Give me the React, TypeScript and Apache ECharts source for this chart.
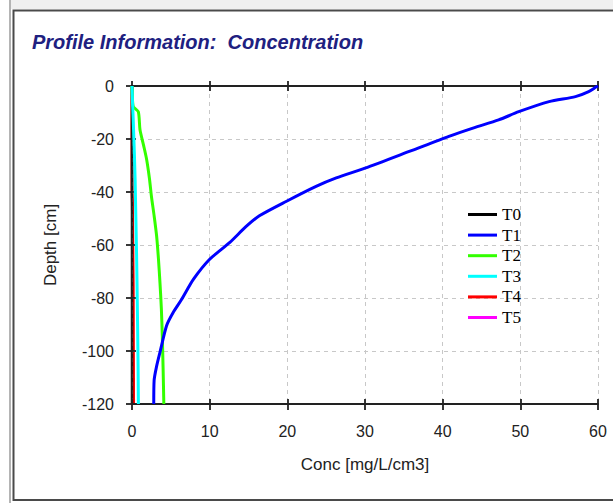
import React, { useEffect, useRef } from "react";
import * as echarts from "echarts";

const seriesNames = ["T0", "T1", "T2", "T3", "T4", "T5"];
const seriesColors = ["#000000", "#0000ff", "#33ff00", "#00ffff", "#ff0000", "#ff00ff"];

// [conc, depth]
const t0: number[][] = [[0, 0], [0, -60], [0, -120]];
const t1: number[][] = [
  [60, 0], [59.8, -0.3], [58.8, -2.1], [57.1, -4], [53.7, -5.9], [49.8, -9.7], [47.2, -12.8],
  [44, -15.8], [40.8, -19], [35.7, -24.7], [30, -31], [26.3, -34.7], [23.7, -37.9],
  [19.9, -43.5], [16.4, -49], [14.7, -53], [12.6, -59], [10, -65.4], [7.9, -73],
  [6.4, -80.5], [5.3, -85.5], [4.45, -90.5], [3.6, -100.5], [3.15, -106], [2.85, -111],
  [2.8, -120]
];
const t2: number[][] = [
  [0, 0], [0.04, -3.4], [0.17, -7.8], [0.81, -9.7], [1.03, -16.5], [1.5, -22.5],
  [1.89, -27.8], [2.25, -35], [2.5, -41.6], [2.85, -49], [3.17, -56.6], [3.4, -65],
  [3.6, -74.2], [3.78, -84], [3.9, -94.2], [4.0, -106], [4.1, -120]
];
const t3: number[][] = [
  [0, 0], [0.05, -5], [0.15, -12], [0.3, -25], [0.4, -35], [0.5, -50], [0.58, -62],
  [0.65, -75], [0.72, -90], [0.78, -105], [0.82, -120]
];
const t4: number[][] = [
  [0, 0], [0, -40], [0.05, -44], [0.1, -60], [0.15, -75], [0.18, -100], [0.2, -120]
];
const t5: number[][] = [[0, 0], [0, -60], [0, -120]];
const seriesData = [t0, t1, t2, t3, t4, t5];
const seriesZ = [-1, 5, 2, 2, -2, -3];

const xTicks = { min: 0, max: 60, interval: 10 };
const yTicks = { min: -120, max: 0, interval: 20 };

const titleText = "Profile Information:  Concentration";
const xName = "Conc [mg/L/cm3]";
const yName = "Depth [cm]";

export default function App() {
  const ref = useRef<HTMLDivElement>(null);
  useEffect(() => {
    if (!ref.current) return;
    const chart = echarts.init(ref.current, undefined, { renderer: "svg" });
    const axisLineStyle = { color: "#222", width: 1.8 };
    const labelStyle = { color: "#222", fontFamily: "Liberation Sans, Arial", fontSize: 16 };
    const hiddenX = (position: string, inside: boolean, showLine: boolean) => ({
      type: "value",
      position,
      min: xTicks.min,
      max: xTicks.max,
      interval: xTicks.interval,
      axisLine: { show: showLine, onZero: false, lineStyle: axisLineStyle },
      axisTick: { show: true, inside, length: 5, lineStyle: axisLineStyle },
      axisLabel: { show: false },
      splitLine: { show: false },
    });
    const option: any = {
      animation: false,
      backgroundColor: "#ffffff",
      graphic: [
        { type: "rect", shape: { x: 11, y: 0, width: 602, height: 9 }, style: { fill: "#f0f0f0" }, silent: true },
        { type: "rect", shape: { x: 9, y: 0, width: 2, height: 503 }, style: { fill: "#b4b4b4" }, silent: true },
        {
          type: "rect",
          shape: { x: 13.5, y: 10.5, width: 620, height: 489.5 },
          style: { fill: "none", stroke: "#4a4a4a", lineWidth: 2 },
          silent: true,
        },
      ],
      title: {
        text: titleText,
        left: 27,
        top: 27,
        textStyle: {
          fontFamily: "Liberation Sans, Arial",
          fontSize: 20,
          fontWeight: "bold",
          fontStyle: "italic",
          color: "#202080",
        },
      },
      legend: {
        orient: "vertical",
        left: 463,
        top: 201,
        itemWidth: 29,
        itemHeight: 3,
        itemGap: 3.6,
        icon: "rect",
        data: seriesNames,
        textStyle: { fontFamily: "Liberation Serif, Times New Roman", fontSize: 17, color: "#000" },
      },
      grid: { left: 132, right: 15, top: 86, bottom: 99 },
      xAxis: [
        {
          type: "value",
          position: "bottom",
          min: xTicks.min,
          max: xTicks.max,
          interval: xTicks.interval,
          name: xName,
          nameLocation: "middle",
          nameGap: 52,
          nameTextStyle: { ...labelStyle, fontSize: 17 },
          axisLine: { show: true, onZero: false, lineStyle: axisLineStyle },
          axisTick: { show: true, inside: false, length: 6, lineStyle: axisLineStyle },
          axisLabel: { ...labelStyle, margin: 19 },
          splitLine: { show: true, lineStyle: { color: "#c8c8c8", type: [4, 4], width: 1 } },
        },
        hiddenX("bottom", true, false),
        hiddenX("top", true, true),
        hiddenX("top", false, false),
      ],
      yAxis: [
        {
          type: "value",
          position: "left",
          min: yTicks.min,
          max: yTicks.max,
          interval: yTicks.interval,
          name: yName,
          nameLocation: "middle",
          nameGap: 73,
          nameTextStyle: { ...labelStyle, fontSize: 17 },
          axisLine: { show: true, onZero: false, lineStyle: axisLineStyle },
          axisTick: { show: true, inside: false, length: 6, lineStyle: axisLineStyle },
          axisLabel: { ...labelStyle, margin: 18 },
          splitLine: { show: true, lineStyle: { color: "#c8c8c8", type: [4, 4], width: 1 } },
        },
        {
          type: "value",
          position: "left",
          min: yTicks.min,
          max: yTicks.max,
          interval: yTicks.interval,
          axisLine: { show: false },
          axisTick: { show: true, inside: true, length: 4, lineStyle: axisLineStyle },
          axisLabel: { show: false },
          splitLine: { show: false },
        },
      ],
      series: seriesNames.map((name, i) => ({
        name,
        type: "line",
        xAxisIndex: 0,
        yAxisIndex: 0,
        data: seriesData[i],
        showSymbol: false,
        symbol: "none",
        smooth: name === "T1" || name === "T2" ? 0.25 : false,
        lineStyle: {
          color: seriesColors[i],
          width: name === "T0" ? 2.5 : name === "T5" ? 2 : 3,
        },
        itemStyle: { color: seriesColors[i] },
        z: seriesZ[i],
      })),
    };
    chart.setOption(option);
    return () => chart.dispose();
  }, []);
  return (
    <div
      ref={ref}
      style={{ position: "fixed", left: 0, top: 0, width: 613, height: 503 }}
    />
  );
}
